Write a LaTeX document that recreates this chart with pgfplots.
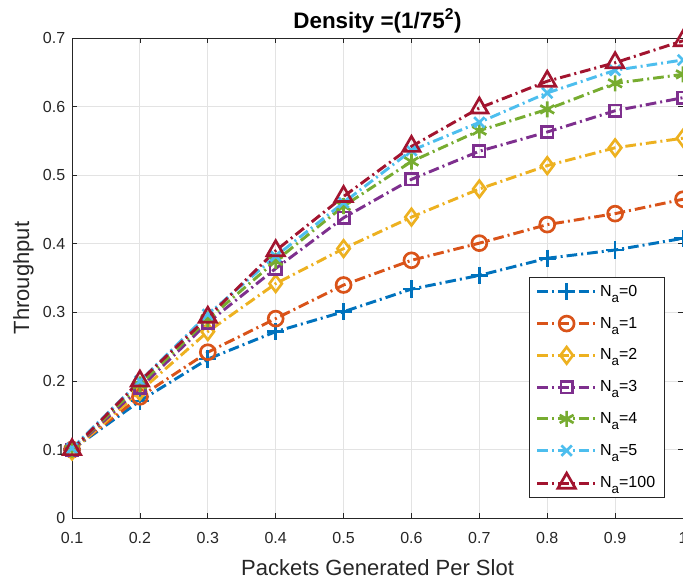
\documentclass[border=0pt]{standalone}
\usepackage{pgfplots}
\pgfplotsset{compat=1.18}
\usepackage{fontspec}
\setmainfont{Liberation Sans}
\definecolor{c1}{rgb}{0,0.447,0.741}
\definecolor{c2}{rgb}{0.85,0.325,0.098}
\definecolor{c3}{rgb}{0.929,0.694,0.125}
\definecolor{c4}{rgb}{0.494,0.184,0.556}
\definecolor{c5}{rgb}{0.466,0.674,0.188}
\definecolor{c6}{rgb}{0.301,0.745,0.933}
\definecolor{c7}{rgb}{0.635,0.078,0.184}
\definecolor{axc}{rgb}{0.15,0.15,0.15}
\newcommand{\Na}{N\raisebox{-4.5pt}{\fontsize{10}{12}\selectfont a}}
\begin{document}
\begin{tikzpicture}
\pgfplotsset{ser/.style={line width=2.2pt, dash pattern=on 8pt off 3pt on 1.5pt off 3pt, mark options={solid, line width=2pt}}}
\begin{axis}[
  name=ax,
  scale only axis,
  width=458pt, height=360pt,
  xmin=0.1, xmax=1, ymin=0, ymax=0.7,
  xtick={0.1,0.2,0.3,0.4,0.5,0.6,0.7,0.8,0.9,1},
  xticklabels={0.1,0.2,0.3,0.4,0.5,0.6,0.7,0.8,0.9,1},
  ytick={0,0.1,0.2,0.3,0.4,0.5,0.6,0.7},
  yticklabels={0,0.1,0.2,0.3,0.4,0.5,0.6,0.7},
  tick align=inside,
  major tick length=4pt,
  tick style={axc, line width=0.6pt},
  axis line style={axc, line width=0.7pt},
  grid=major,
  major grid style={gray!22, line width=0.7pt},
  ticklabel style={font=\fontsize{12}{14}\selectfont, text=axc},
  xticklabel style={anchor=base, yshift=-18.8pt},
  yticklabel style={xshift=-1.6pt},
  xlabel={Packets Generated Per Slot},
  ylabel={Throughput},
  xlabel style={font=\fontsize{16.5}{19}\selectfont, text=axc, at={(axis description cs:0.5,-0.1187)}, anchor=base},
  ylabel style={font=\fontsize{16.5}{19}\selectfont, text=axc, at={(axis description cs:-0.0704,0.5)}, anchor=base},
  every axis title shift=0pt,
  title={\bfseries Density =(1/75\textsuperscript{2})},
  title style={font=\fontsize{16.8}{19}\selectfont, at={(axis description cs:0.5,1.0203)}, anchor=base},
  legend style={at={(axis description cs:0.9705,0.0417)}, anchor=south east,
    font=\fontsize{12}{14}\selectfont, draw=axc, line width=0.7pt,
    row sep=10pt, inner xsep=5pt, inner ysep=4pt},
  legend cell align=left,
  legend image code/.code={\draw[mark repeat=2,mark phase=2,#1] plot coordinates {(0pt,0pt) (22pt,0pt) (44pt,0pt)};},
]
\addplot[ser, c1, mark=+, mark size=6.5pt] coordinates {
(0.1,0.1) (0.2,0.171) (0.3,0.232) (0.4,0.272) (0.5,0.301) (0.6,0.334) (0.7,0.354) (0.8,0.379) (0.9,0.391) (1.0,0.408)};
\addlegendentry{\Na=0}
\addplot[ser, c2, mark=o, mark size=5.6pt] coordinates {
(0.1,0.1) (0.2,0.177) (0.3,0.242) (0.4,0.291) (0.5,0.340) (0.6,0.376) (0.7,0.401) (0.8,0.428) (0.9,0.444) (1.0,0.465)};
\addlegendentry{\Na=1}
\addplot[ser, c3, mark=diamond, mark size=6.2pt] coordinates {
(0.1,0.098) (0.2,0.185) (0.3,0.272) (0.4,0.342) (0.5,0.393) (0.6,0.439) (0.7,0.480) (0.8,0.514) (0.9,0.540) (1.0,0.554)};
\addlegendentry{\Na=2}
\addplot[ser, c4, mark=square, mark size=4.3pt] coordinates {
(0.1,0.099) (0.2,0.190) (0.3,0.285) (0.4,0.364) (0.5,0.438) (0.6,0.494) (0.7,0.535) (0.8,0.563) (0.9,0.594) (1.0,0.613)};
\addlegendentry{\Na=3}
\addplot[ser, c5, mark=asterisk, mark size=6pt] coordinates {
(0.1,0.1) (0.2,0.195) (0.3,0.290) (0.4,0.375) (0.5,0.455) (0.6,0.520) (0.7,0.565) (0.8,0.596) (0.9,0.634) (1.0,0.647)};
\addlegendentry{\Na=4}
\addplot[ser, c6, mark=x, mark size=5.5pt] coordinates {
(0.1,0.102) (0.2,0.200) (0.3,0.297) (0.4,0.382) (0.5,0.460) (0.6,0.536) (0.7,0.577) (0.8,0.620) (0.9,0.653) (1.0,0.668)};
\addlegendentry{\Na=5}
\addplot[ser, c7, mark=triangle, mark size=7.5pt] coordinates {
(0.1,0.1) (0.2,0.200) (0.3,0.293) (0.4,0.390) (0.5,0.469) (0.6,0.542) (0.7,0.598) (0.8,0.637) (0.9,0.664) (1.0,0.696)};
\addlegendentry{\Na=100}
\end{axis}
\pgfresetboundingbox
\path ([xshift=-54pt,yshift=-49.5pt]ax.south west) rectangle ([yshift=28.5pt]ax.north east);
\end{tikzpicture}
\end{document}
